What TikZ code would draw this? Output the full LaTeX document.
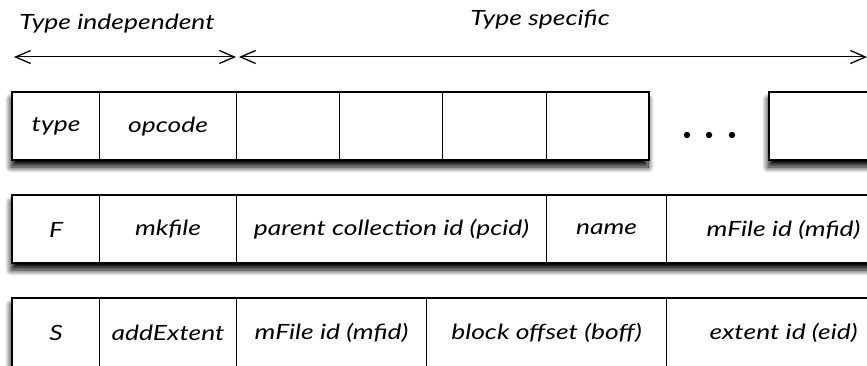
\documentclass[tikz,border=0pt]{standalone}
\usepackage{fontspec}
\setmainfont{Lato}[FakeStretch=1.26]
\usetikzlibrary{arrows.meta,shadows.blur}
\begin{document}
\begin{tikzpicture}[x=1pt,y=-1pt,
  every node/.style={font=\fontsize{21}{25}\selectfont\itshape},
  row/.style={draw, line width=1.7pt, fill=white,
    blur shadow={shadow xshift=-1pt, shadow yshift=-7pt,
      shadow blur radius=6pt, shadow blur steps=14, shadow opacity=100}},
  cell/.style={draw, line width=1.1pt, inner sep=0pt, anchor=north west},
  barb/.style={Straight Barb[length=15pt,width=13pt,line width=1.3pt]},
  span/.style={line width=1pt, {Straight Barb[length=15pt,width=13pt,line width=1.3pt]}-{Straight Barb[length=15pt,width=13pt,line width=1.3pt]}}
]
\useasboundingbox (0,0) rectangle (867,366);
\clip (0,0) rectangle (867,366);

% headings and span arrows
\node (ti) at (117,24) {Type independent};
\node (ts) at (540,20) {Type specific};
\coordinate (a1) at (14,57);
\coordinate (a2) at (236,57);
\coordinate (a3) at (239,57);
\coordinate (a4) at (867,57);
\draw[span] (a1) -- (a2);
\draw[span] (a3) -- (a4);

% row 1: generic layout
\path[row] (12,92) rectangle (649,160);
\path[row] (769,92) rectangle (900,160);
\node[cell, minimum width=87, minimum height=68] (r1a) at (12,92) {type};
\node[cell, minimum width=137, minimum height=68] (r1b) at (99,92) {opcode};
\node[cell, minimum width=103, minimum height=68] (r1c) at (236,92) {};
\node[cell, minimum width=103, minimum height=68] (r1d) at (339,92) {};
\node[cell, minimum width=104, minimum height=68] (r1e) at (442,92) {};
\node[cell, minimum width=103, minimum height=68] (r1f) at (546,92) {};
\node[cell, minimum width=131, minimum height=68] (r1g) at (769,92) {};
\fill (687,135) circle (3.2) (709,135) circle (3.2) (732,135) circle (3.2);

% row 2: mkfile
\path[row] (12,195) rectangle (900,263);
\node[cell, minimum width=87, minimum height=68] (r2a) at (12,195) {F};
\node[cell, minimum width=137, minimum height=68] (r2b) at (99,195) {mkfile};
\node[cell, minimum width=310, minimum height=68] (r2c) at (236,195) {parent collection id (pcid)};
\node[cell, minimum width=120, minimum height=68] (r2d) at (546,195) {name};
\node[cell, minimum width=234, minimum height=68] (r2e) at (666,195) {mFile id (mfid)};

% row 3: addExtent
\path[row] (12,298) rectangle (900,400);
\node[cell, minimum width=87, minimum height=68] (r3a) at (12,298) {S};
\node[cell, minimum width=137, minimum height=68] (r3b) at (99,298) {addExtent};
\node[cell, minimum width=190, minimum height=68] (r3c) at (236,298) {mFile id (mfid)};
\node[cell, minimum width=240, minimum height=68] (r3d) at (426,298) {block offset (boff)};
\node[cell, minimum width=234, minimum height=68] (r3e) at (666,298) {extent id (eid)};
\end{tikzpicture}
\end{document}
